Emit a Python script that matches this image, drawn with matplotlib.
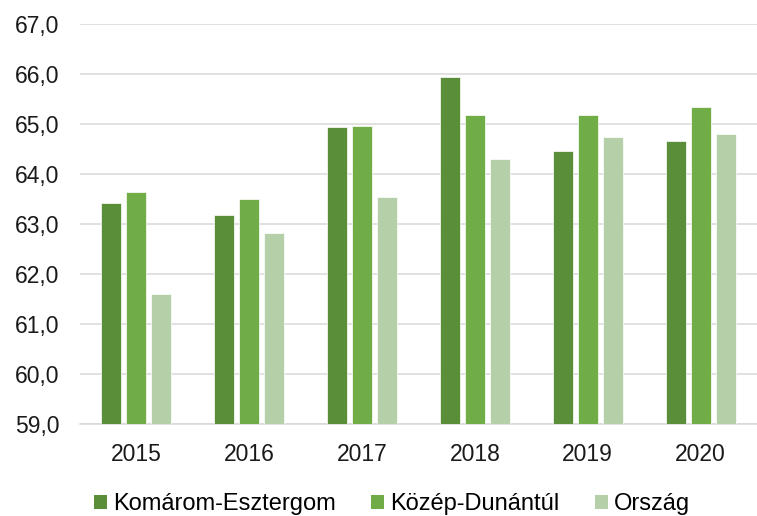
import numpy as np
import matplotlib
matplotlib.use("Agg")
import matplotlib.pyplot as plt
from matplotlib.ticker import FuncFormatter
from matplotlib.patches import Patch

plt.rcParams["font.family"] = ["Liberation Sans", "DejaVu Sans"]

# ---------------------------------------------------------------------------
# Data
# ---------------------------------------------------------------------------
years = ["2015", "2016", "2017", "2018", "2019", "2020"]
komarom = [63.42, 63.19, 64.94, 65.94, 64.46, 64.65]
kozep = [63.64, 63.50, 64.96, 65.18, 65.19, 65.35]
orszag = [61.59, 62.83, 63.53, 64.29, 64.75, 64.80]
series_names = ["Komárom-Esztergom", "Közép-Dunántúl", "Ország"]
colors = ["#5B8E39", "#70AD47", "#B5CFA8"]

# ---------------------------------------------------------------------------
# Plot
# ---------------------------------------------------------------------------
fig = plt.figure(figsize=(7.57, 5.16), dpi=100)
ax = fig.add_axes([80 / 757, 1 - 424 / 516, 677 / 757, 400 / 516])

x = np.arange(len(years))
w = 0.177
step = 0.222
for i, (vals, c) in enumerate(zip([komarom, kozep, orszag], colors)):
    ax.bar(x + (i - 1) * step, np.array(vals) - 59, bottom=59, width=w,
           color=c, edgecolor="white", linewidth=0.5, zorder=3)

ax.set_xlim(-0.5, len(years) - 0.5)
ax.set_ylim(59, 67)
ax.set_yticks(range(59, 68))
ax.yaxis.set_major_formatter(FuncFormatter(lambda v, p: f"{v:.1f}".replace(".", ",")))
ax.set_xticks(x)
ax.set_xticklabels(years)
ax.tick_params(axis="y", length=0, pad=15, labelsize=16.5, colors="#1a1a1a")
ax.tick_params(axis="x", length=0, pad=14, labelsize=16.5, colors="#1a1a1a")
ax.grid(axis="y", color="#D9D9D9", linewidth=1.1, zorder=0)
for s in ["top", "right", "left"]:
    ax.spines[s].set_visible(False)
ax.spines["bottom"].set_color("#D9D9D9")
ax.spines["bottom"].set_linewidth(1.1)

handles = [Patch(facecolor=c, edgecolor="none", label=n) for c, n in zip(colors, series_names)]
fig.legend(handles=handles, loc="center", bbox_to_anchor=(392 / 757, 1 - 504 / 516),
           ncol=3, frameon=False, fontsize=17, handlelength=0.55, handleheight=0.55,
           handletextpad=0.25, columnspacing=1.5, borderaxespad=0, borderpad=0)

fig.savefig("out.png", dpi=100)
